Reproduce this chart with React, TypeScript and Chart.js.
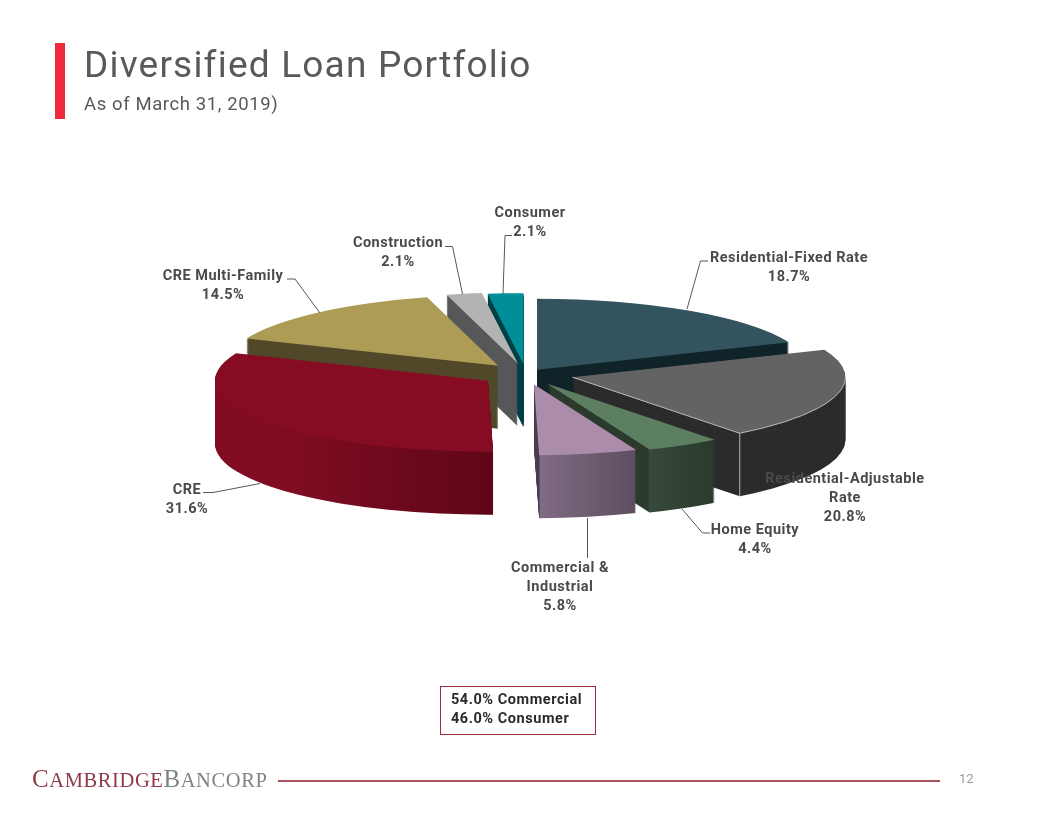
import React, { useEffect, useRef } from "react";
import { Chart, registerables } from "chart.js";

Chart.register(...registerables);

const categories = [
  "Residential-Fixed Rate",
  "Residential-Adjustable Rate",
  "Home Equity",
  "Commercial & Industrial",
  "CRE",
  "CRE Multi-Family",
  "Construction",
  "Consumer",
];
const shares = [18.7, 20.8, 4.4, 5.8, 31.6, 14.5, 2.1, 2.1];
const labelLines = [
  ["Residential-Fixed Rate"],
  ["Residential-Adjustable", "Rate"],
  ["Home Equity"],
  ["Commercial &", "Industrial"],
  ["CRE"],
  ["CRE Multi-Family"],
  ["Construction"],
  ["Consumer"],
];
const topColors = ["#33535f", "#636363", "#5c7f62", "#ab8cab", "#860c24", "#ad9c55", "#b3b3b3", "#008e98"];
const wallStops: [number, string][][] = [
  [[0, "#0f2329"], [1, "#0f2329"]],
  [[0, "#2b2b2b"], [1, "#2b2b2b"]],
  [[0, "#2b3a2c"], [0.6, "#2b3a2c"], [0.61, "#37493a"], [1, "#2a392d"]],
  [[0, "#4a3b4e"], [0.05, "#4a3b4e"], [0.06, "#7f6c84"], [1, "#5e4c5f"]],
  [[0, "#830c23"], [0.3, "#7e0c22"], [1, "#5f0618"]],
  [[0, "#51482a"], [1, "#51482a"]],
  [[0, "#555759"], [1, "#555759"]],
  [[0, "#003f44"], [1, "#003f44"]],
];
const explode = [19.85, 48, 43, 40, 46, 42, 42, 38];
const drawOrder = [0, 7, 6, 5, 1, 2, 3, 4];
const labelCenters = [
  [789, 258.5], [845, 479.5], [755, 530.5], [560, 568.5],
  [187, 490.5], [223, 276.5], [398, 243.5], [530, 213.5],
];
const leaders = [
  [[687, 309], [700.5, 261], [708, 261]],
  [],
  [[682, 509], [702.5, 533], [710, 533]],
  [[587.5, 518], [587.5, 558]],
  [[260, 483.5], [213, 492.5], [203, 492.5]],
  [[320, 313], [295, 279], [287, 279]],
  [[462.5, 294], [452.5, 246.5], [445, 246.5]],
  [[503, 294], [505, 235.5], [512, 235.5]],
];
const outlinedSlice = 1;
const squash = 0.26;
const depth = 63;
const labelFont = "bold 14.5px Roboto";
const labelColor = "#4a4a4c";
const summaryLines = ["54.0% Commercial", "46.0% Consumer"];

const pie3d = {
  id: "pie3d",
  beforeDatasetDraw(chart: any) {
    const ctx: CanvasRenderingContext2D = chart.ctx;
    const arcs = chart.getDatasetMeta(0).data;
    const place = (a: any, i: number, down: number) => {
      const mid = (a.startAngle + a.endAngle) / 2;
      ctx.translate(Math.cos(mid) * explode[i], Math.sin(mid) * explode[i] * squash + down);
      ctx.translate(a.x, a.y);
      ctx.scale(1, squash);
      ctx.translate(-a.x, -a.y);
    };
    for (const i of drawOrder) {
      const a = arcs[i];
      const r = a.outerRadius;
      const xs = [0, Math.cos(a.startAngle) * r, Math.cos(a.endAngle) * r];
      for (let t = -Math.PI; t < Math.PI * 3; t += Math.PI) {
        if (t > a.startAngle && t < a.endAngle) xs.push(Math.cos(t) * r);
      }
      const x0 = a.x + Math.min(...xs);
      const x1 = a.x + Math.max(...xs);
      for (let d = depth; d >= 1; d -= 1) {
        ctx.save();
        place(a, i, d);
        const g = ctx.createLinearGradient(x0, 0, x1, 0);
        wallStops[i].forEach(([p, c]) => g.addColorStop(p, c));
        ctx.fillStyle = g;
        ctx.beginPath();
        ctx.moveTo(a.x, a.y);
        ctx.arc(a.x, a.y, r, a.startAngle, a.endAngle);
        ctx.closePath();
        ctx.fill();
        ctx.restore();
      }
      ctx.save();
      place(a, i, 0);
      a.draw(ctx);
      ctx.restore();
      if (i === outlinedSlice) {
        const end = a.endAngle;
        ctx.save();
        place(a, i, 0);
        ctx.beginPath();
        ctx.moveTo(a.x, a.y);
        ctx.lineTo(a.x + Math.cos(end) * r, a.y + Math.sin(end) * r);
        ctx.arc(a.x, a.y, r, end, 0, true);
        ctx.restore();
        ctx.strokeStyle = "rgba(225,225,225,0.75)";
        ctx.lineWidth = 1;
        ctx.stroke();
        const mid = (a.startAngle + a.endAngle) / 2;
        const ex = a.x + Math.cos(mid) * explode[i] + Math.cos(end) * r;
        const ey = a.y + Math.sin(mid) * explode[i] * squash + Math.sin(end) * r * squash;
        ctx.beginPath();
        ctx.moveTo(ex, ey);
        ctx.lineTo(ex, ey + depth);
        ctx.stroke();
      }
    }
    return false;
  },
  afterDatasetsDraw(chart: any) {
    const ctx: CanvasRenderingContext2D = chart.ctx;
    ctx.save();
    ctx.lineWidth = 1;
    ctx.strokeStyle = "#55575a";
    leaders.forEach((pts) => {
      if (!pts.length) return;
      ctx.beginPath();
      pts.forEach(([x, y], k) => (k ? ctx.lineTo(x, y) : ctx.moveTo(x, y)));
      ctx.stroke();
    });
    ctx.font = labelFont;
    ctx.textAlign = "center";
    ctx.textBaseline = "middle";
    (ctx as any).letterSpacing = "0.5px";
    ctx.fillStyle = labelColor;
    categories.forEach((_, i) => {
      const lines = [...labelLines[i], shares[i].toFixed(1) + "%"];
      const [cx, cy] = labelCenters[i];
      lines.forEach((t, k) => ctx.fillText(t, cx, cy + k * 19));
    });
    ctx.restore();
  },
};

export default function App() {
  const ref = useRef<HTMLCanvasElement>(null);
  useEffect(() => {
    const chart = new Chart(ref.current as HTMLCanvasElement, {
      type: "pie",
      data: {
        labels: categories,
        datasets: [{ data: shares, backgroundColor: topColors, borderWidth: 0, radius: 273 } as any],
      },
      options: {
        responsive: false,
        animation: false,
        events: [],
        layout: { padding: { left: 0, right: 4, top: 0, bottom: 68 } },
        plugins: { legend: { display: false }, tooltip: { enabled: false }, title: { display: false } },
      },
      plugins: [pie3d],
    } as any);
    return () => chart.destroy();
  }, []);

  const abs = (s: React.CSSProperties): React.CSSProperties => ({ position: "absolute", whiteSpace: "nowrap", ...s });
  const big = { fontSize: 25 };
  return (
    <div style={{ position: "absolute", left: 0, top: 0, width: 1056, height: 816, overflow: "hidden", background: "#fff" }}>
      <canvas ref={ref} width={1056} height={816} style={{ position: "absolute", left: 0, top: 0 }} />
      <div style={abs({ left: 55, top: 43, width: 10, height: 76, background: "#ee2a3c" })} />
      <div style={abs({ left: 84, top: 43, font: "400 37px Roboto", letterSpacing: 1.2, color: "#58595b", lineHeight: "44px" })}>
        Diversified Loan Portfolio
      </div>
      <div style={abs({ left: 84, top: 92, font: "400 18.5px Roboto", letterSpacing: 0.6, color: "#58595b", lineHeight: "24px" })}>
        As of March 31, 2019)
      </div>
      <div style={abs({ left: 440, top: 686, width: 154, height: 47, border: "1px solid #9b2c3b" })} />
      {summaryLines.map((t, i) => (
        <div key={t} style={abs({ left: 451, top: 690 + i * 19, font: "bold 14.5px Roboto", letterSpacing: 0.55, color: "#2b2b2d", lineHeight: "19px" })}>
          {t}
        </div>
      ))}
      <div style={abs({ left: 32, top: 765, font: "20.5px 'Liberation Serif'", letterSpacing: 0.6, color: "#8e3a48", lineHeight: "28px" })}>
        <span style={big}>C</span>AMBRIDGE
        <span style={{ color: "#7e8388" }}><span style={big}>B</span>ANCORP</span>
      </div>
      <div style={abs({ left: 278, top: 780, width: 662, height: 2, background: "#a8525e" })} />
      <div style={abs({ left: 959, top: 771, font: "13px Roboto", color: "#9a9a9a", lineHeight: "16px" })}>12</div>
    </div>
  );
}
